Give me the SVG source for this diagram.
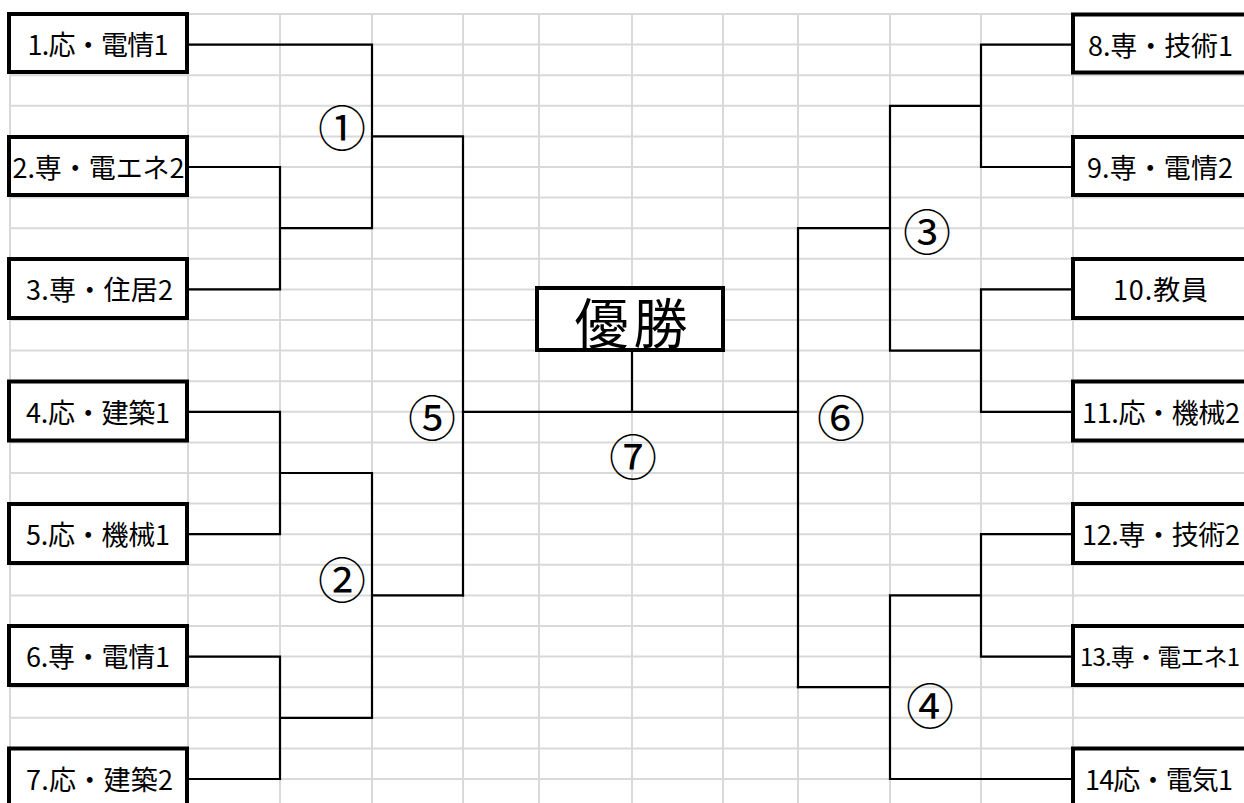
<svg xmlns="http://www.w3.org/2000/svg" width="1244" height="803" viewBox="0 0 1244 803">
<style>
.g{stroke:#d9d9d9;stroke-width:2;fill:none}
.c{stroke:#000;stroke-width:2.2;fill:none;stroke-linecap:square}
.b{fill:#fff;stroke:#000;stroke-width:4}
.t{font-family:"Noto Sans CJK JP","Noto Sans",sans-serif;font-size:27px;fill:#000;text-anchor:middle}
.n{font-family:"Noto Sans CJK JP","Noto Sans",sans-serif;font-size:48px;fill:#000;text-anchor:middle}
</style>
<rect width="1244" height="803" fill="#fff"/>
<g id="grid">
<path class="g" d="M10 14H1244M10 44.6H1244M10 75.2H1244M10 105.8H1244M10 136.4H1244M10 167H1244M10 197.6H1244M10 228.2H1244M10 258.8H1244M10 289.4H1244M10 320H1244M10 350.6H1244M10 381.2H1244M10 411.8H1244M10 442.4H1244M10 473H1244M10 503.6H1244M10 534.2H1244M10 564.8H1244M10 595.4H1244M10 626H1244M10 656.6H1244M10 687.2H1244M10 717.8H1244M10 748.4H1244M10 779H1244"/>
<path class="g" d="M10 14V803M188 14V803M280 14V803M372 14V803M463 14V803M539 14V803M632 14V803M723 14V803M798 14V803M890 14V803M981 14V803M1073 14V803"/>
</g>
<g id="connectors">
<path class="c" d="M187 44.6H372V228.2M187 167H280V289.4H187M280 228.2H372M372 136.4H463V595.4"/>
<path class="c" d="M187 411.8H280V534.2H187M280 473H372V717.8M187 656.6H280V779H187M280 717.8H372M372 595.4H463"/>
<path class="c" d="M463 411.8H798M632 350V411.8"/>
<path class="c" d="M1073 44.6H981V167H1073M981 105.8H890V350.6H981M1073 289.4H981V411.8H1073M890 228.2H798V687.2"/>
<path class="c" d="M1073 534.2H981V656.6H1073M981 595.4H890V779H1073M890 687.2H798"/>
</g>
<g id="n1"><rect class="b" x="9" y="14" width="178" height="58"/><text class="t" x="98" y="55" textLength="141" lengthAdjust="spacing">1.応・電情1</text></g>
<g id="n2"><rect class="b" x="9" y="137" width="178" height="58"/><text class="t" x="98.5" y="178" textLength="172" lengthAdjust="spacing">2.専・電エネ2</text></g>
<g id="n3"><rect class="b" x="9" y="259" width="178" height="59"/><text class="t" x="99.5" y="300" textLength="147" lengthAdjust="spacing">3.専・住居2</text></g>
<g id="n4"><rect class="b" x="9" y="381.5" width="178" height="59"/><text class="t" x="98" y="422.5" textLength="144" lengthAdjust="spacing">4.応・建築1</text></g>
<g id="n5"><rect class="b" x="9" y="504" width="178" height="59"/><text class="t" x="98" y="545" textLength="144" lengthAdjust="spacing">5.応・機械1</text></g>
<g id="n6"><rect class="b" x="9" y="626" width="178" height="59"/><text class="t" x="98" y="667" textLength="144" lengthAdjust="spacing">6.専・電情1</text></g>
<g id="n7"><rect class="b" x="9" y="748.5" width="178" height="59"/><text class="t" x="99.5" y="789.5" textLength="147" lengthAdjust="spacing">7.応・建築2</text></g>
<g id="n8"><rect class="b" x="1073" y="14.5" width="178" height="58"/><text class="t" x="1160.5" y="55.5" textLength="145" lengthAdjust="spacing">8.専・技術1</text></g>
<g id="n9"><rect class="b" x="1073" y="137" width="178" height="58"/><text class="t" x="1160" y="178" textLength="146" lengthAdjust="spacing">9.専・電情2</text></g>
<g id="n10"><rect class="b" x="1073" y="259" width="178" height="59"/><text class="t" x="1160.5" y="300" textLength="95" lengthAdjust="spacing">10.教員</text></g>
<g id="n11"><rect class="b" x="1073" y="381.5" width="178" height="59"/><text class="t" x="1161" y="422.5" textLength="158" lengthAdjust="spacing">11.応・機械2</text></g>
<g id="n12"><rect class="b" x="1073" y="504" width="178" height="59"/><text class="t" x="1161" y="545" textLength="158" lengthAdjust="spacing">12.専・技術2</text></g>
<g id="n13"><rect class="b" x="1073" y="626" width="178" height="59"/><text class="t" x="1160" y="666" textLength="160" lengthAdjust="spacing" style="font-size:24px">13.専・電エネ1</text></g>
<g id="n14"><rect class="b" x="1073" y="748.5" width="178" height="59"/><text class="t" x="1159" y="789.5" textLength="148" lengthAdjust="spacing">14応・電気1</text></g>
<g id="champion"><rect class="b" x="537" y="288" width="186" height="62"/><text class="t" x="631" y="344" style="font-size:54px" textLength="113" lengthAdjust="spacing">優勝</text></g>
<g id="labels">
<text class="n" x="342" y="146">①</text>
<text class="n" x="342" y="598">②</text>
<text class="n" x="927" y="250">③</text>
<text class="n" x="930" y="724">④</text>
<text class="n" x="432" y="436">⑤</text>
<text class="n" x="841" y="436">⑥</text>
<text class="n" x="633" y="475">⑦</text>
</g>
</svg>
